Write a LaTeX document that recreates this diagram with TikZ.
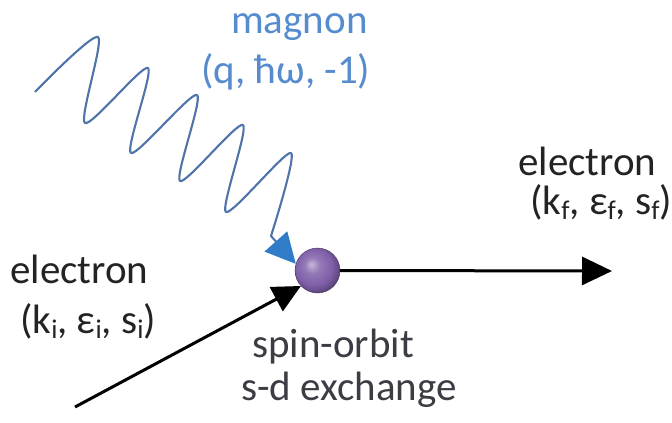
\documentclass[tikz,border=0pt]{standalone}
\usepackage{fontspec}
\setmainfont{Carlito}
\usetikzlibrary{arrows.meta}
\definecolor{magblue}{RGB}{86,140,205}
\definecolor{waveblue}{RGB}{78,116,170}
\definecolor{tipblue}{RGB}{48,124,200}
\definecolor{ballc}{RGB}{128,96,170}
\definecolor{txtdark}{RGB}{35,35,35}
\definecolor{txtgray}{RGB}{60,60,68}
\pgfdeclareradialshading{myball}{\pgfpoint{-7bp}{7bp}}{%
  color(0bp)=(ballc!45!white);
  color(9bp)=(ballc!85!white);
  color(20bp)=(ballc);
  color(30bp)=(ballc!65!black);
  color(50bp)=(ballc!55!black)}
\newcommand\sbs[1]{\raisebox{-0.14em}{\fontsize{27}{27}\selectfont #1}}
\tikzset{
  lbl/.style={anchor=base west, inner sep=0pt, align=left},
  elbl/.style={lbl, text=txtdark},
  mlbl/.style={lbl, text=magblue},
  slbl/.style={lbl, text=txtgray},
  eline/.style={line width=3pt, black},
  wave/.style={line width=2.1pt, waveblue, line join=round},
}
\begin{document}
\begin{tikzpicture}[x=1pt, y=-1pt]
\useasboundingbox (0,0) rectangle (672,423);

% vertex ball
\node[circle, minimum size=45pt, inner sep=0pt, shading=myball,
      draw=ballc!55!black, line width=0.4pt] (ball) at (317.5,270.5) {};

% free ends
\coordinate (ein) at (75,407);
\coordinate (eout) at (612,271);

% electron lines
\draw[eline, -{Triangle[length=28pt, width=27pt]}] (ein) -- (ball.223);
\draw[eline, -{Triangle[length=30pt, width=28pt]}] (ball.east) -- (eout);

% magnon wave
\coordinate (mstart) at (35,92);
\draw[wave, -{Triangle[length=30pt, width=30pt, color=tipblue]}]
  plot[smooth, tension=0.45] coordinates {
    (mstart) (98,37) (85,123) (148,68) (131,153) (197,95)
    (180,181) (243,125) (226,212) (291,153) (271,236)}
  -- (ball.163);

% labels (anchor = baseline of the last line)
\node[mlbl, font=\fontsize{41}{50}\selectfont] (mag) at (201,83)
  {\hspace*{30pt}magnon\\(q, ħω, -1)};
\node[elbl, font=\fontsize{41}{50}\selectfont] (ei) at (10,333)
  {electron\\\hspace*{10pt}(k\sbs{i}, ε\sbs{i}, s\sbs{i})};
\node[elbl, font=\fontsize{41}{39}\selectfont] (ef) at (518,214)
  {electron\\\hspace*{12pt}(k\sbs{f}, ε\sbs{f}, s\sbs{f})};
\node[slbl, font=\fontsize{41}{43}\selectfont] (so) at (241,400)
  {\hspace*{11pt}spin-orbit\\s-d exchange};
\end{tikzpicture}
\end{document}
